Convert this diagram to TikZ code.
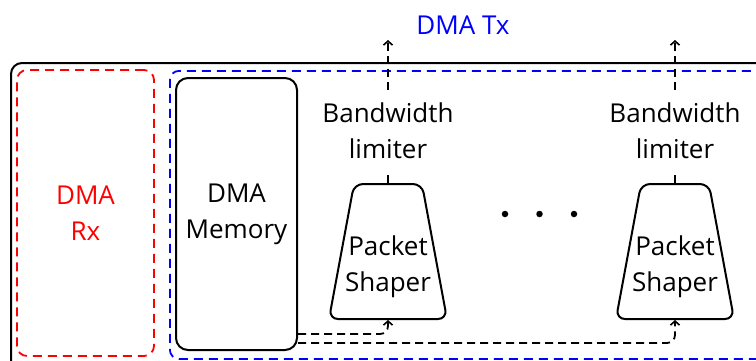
\documentclass[tikz,border=0pt]{standalone}
\usepackage{fontspec}
\setmainfont{Open Sans}
\usetikzlibrary{shapes.geometric,arrows.meta}
\begin{document}
\begin{tikzpicture}[x=1pt,y=-1pt,
  lbl/.style={font=\fontsize{26}{36}\selectfont, align=center, inner sep=0pt},
  conn/.style={line width=1.8pt, dash pattern=on 8pt off 5pt, -{Straight Barb[length=4pt,width=9pt,line width=1.6pt]}},
  outerbox/.style={draw, line width=2pt, rounded corners=11pt, inner sep=0pt, anchor=north west},
  rxbox/.style={draw=red, text=red, line width=1.8pt, dash pattern=on 9pt off 6pt, rounded corners=10pt, lbl, minimum width=137pt, minimum height=286pt},
  txbox/.style={draw=blue, line width=1.8pt, dash pattern=on 9pt off 6pt, rounded corners=9pt, inner sep=0pt, anchor=north west},
  membox/.style={draw, line width=2pt, rounded corners=12pt, lbl, minimum width=121pt, minimum height=272pt},
  shaper/.style={draw, line width=2pt, trapezium, trapezium stretches=true, trapezium angle=69.8, rounded corners=9pt, inner sep=5pt, minimum width=118pt, minimum height=135pt},
  bwlbl/.style={lbl, inner sep=13pt},
  dotn/.style={circle, fill, inner sep=0pt, minimum size=6.5pt}
]
\useasboundingbox (0,0) rectangle (756,360);
\clip (0,0) rectangle (756,360);

\node[outerbox, minimum width=790pt, minimum height=310pt] (outer) at (10,62) {};
\node[rxbox] (rx) at (85.5,213) {DMA\\Rx};
\node[txbox, minimum width=620pt, minimum height=288pt] (txb) at (169,70) {};
\node[membox] (mem) at (236.5,214) {DMA\\Memory};

\node[lbl, text=blue] (tx) at (463,25.5) {DMA Tx};

% shapers
\node[shaper] (sh1) at (388,251.5) {};
\node[lbl] (sh1t) at (388,267) {Packet\\Shaper};
\node[shaper] (sh2) at (675,251.5) {};
\node[lbl] (sh2t) at (675,267) {Packet\\Shaper};

% bandwidth limiters
\node[bwlbl] (bw1) at (388,131) {Bandwidth\\limiter};
\node[bwlbl] (bw2) at (675,131) {Bandwidth\\limiter};
\coordinate (out1) at (388,40);
\coordinate (out2) at (675,40);

\draw[conn, -] (sh1.north) -- (bw1.south);
\draw[conn] (bw1.north) -- (out1);
\draw[conn, -] (sh2.north) -- (bw2.south);
\draw[conn] (bw2.north) -- (out2);

% dots
\node[dotn] (d1) at (505,214) {};
\node[dotn] (d2) at (539.5,214) {};
\node[dotn] (d3) at (574,214) {};

% memory to shapers
\coordinate (y1) at (0,334);
\coordinate (y2) at (0,343);
\draw[conn, rounded corners=8pt] (mem.east |- y1) -| (sh1.south);
\draw[conn, rounded corners=8pt] (mem.east |- y2) -| (sh2.south);
\end{tikzpicture}
\end{document}
